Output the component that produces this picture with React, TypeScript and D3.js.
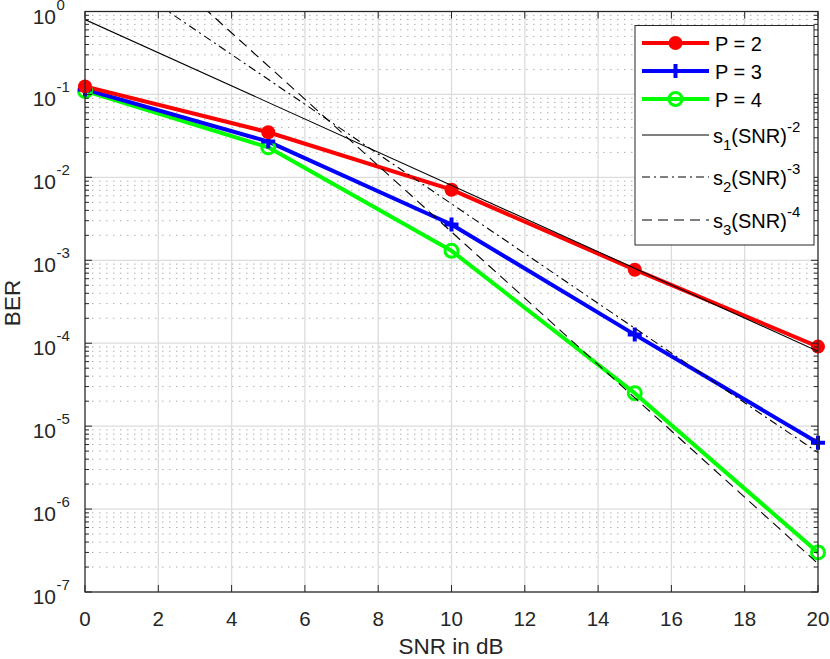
import { scaleLinear, scaleLog, line, range } from "d3";

const snrDb = [0, 5, 10, 15, 20];
const berP2 = [0.125, 0.035, 0.0071, 7.7e-4, 9.1e-5];
const berP3 = [0.115, 0.027, 0.0027, 1.27e-4, 6.3e-6];
const berP4 = [0.11, 0.023, 0.0013, 2.5e-5, 3.0e-7];
const slopeCoeffs = [0.8, 4.8, 22];
const slopeOrders = [2, 3, 4];
const xTicks = [0, 2, 4, 6, 8, 10, 12, 14, 16, 18, 20];
const yExps = [-7, -6, -5, -4, -3, -2, -1, 0];

const width = 830;
const height = 659;
const margin = { top: 11.5, bottom: 67, left: 85, right: 12 };
const innerWidth = width - margin.left - margin.right;
const innerHeight = height - margin.top - margin.bottom;
const font = "'Liberation Sans', Arial, sans-serif";
const axisColor = "#262626";

const series = [
  { name: "P = 4", values: berP4, color: "#00ff00", marker: "o" },
  { name: "P = 3", values: berP3, color: "#0000ff", marker: "+" },
  { name: "P = 2", values: berP2, color: "#ff0000", marker: "dot" },
];
const slopeDash = [undefined, "8,4,2,4", "10,6"];

function Marker({ type, x, y, color }: { type: string; x: number; y: number; color: string }) {
  if (type === "dot") return <circle cx={x} cy={y} r={7} fill={color} />;
  if (type === "o")
    return <circle cx={x} cy={y} r={6.5} fill="none" stroke={color} strokeWidth={3} />;
  return (
    <path d={`M${x - 7},${y}H${x + 7}M${x},${y - 7}V${y + 7}`} stroke={color} strokeWidth={4} />
  );
}

export default function App() {
  const x = scaleLinear().domain([0, 20]).range([0, innerWidth]);
  const y = scaleLog().domain([1e-7, 1]).range([innerHeight, 0]);
  const lineGen = line<[number, number]>()
    .x((d) => x(d[0]))
    .y((d) => y(d[1]));

  const minors: number[] = [];
  yExps.slice(0, -1).forEach((e) => {
    range(2, 10).forEach((m) => minors.push(m * Math.pow(10, e)));
  });

  const slopeLines = slopeCoeffs.map((s, i) =>
    [0, 20].map((db) => [db, s * Math.pow(10, (-slopeOrders[i] * db) / 10)] as [number, number])
  );

  const legendX = 635;
  const legendY = 25.5;
  const legendRows = [43, 71, 99, 135, 177, 220];
  const legendSeries = [...series].reverse();

  return (
    <svg width={width} height={height} style={{ display: "block", position: "absolute", left: 0, top: 0 }} fontFamily={font}>
      <rect width={width} height={height} fill="#fff" />
      <defs>
        <clipPath id="plot">
          <rect width={innerWidth} height={innerHeight} />
        </clipPath>
      </defs>
      <g transform={`translate(${margin.left},${margin.top})`}>
        {/* minor grid */}
        {minors.map((v) => (
          <line key={"m" + v} x1={0} x2={innerWidth} y1={y(v)} y2={y(v)} stroke="#b0b0b0" strokeWidth={1} strokeDasharray="1.5,5.5" />
        ))}
        {/* major grid */}
        {xTicks.map((t) => (
          <line key={"gx" + t} x1={x(t)} x2={x(t)} y1={0} y2={innerHeight} stroke="#dcdcdc" strokeWidth={1.3} />
        ))}
        {yExps.map((e) => (
          <line key={"gy" + e} x1={0} x2={innerWidth} y1={y(Math.pow(10, e))} y2={y(Math.pow(10, e))} stroke="#dcdcdc" strokeWidth={1.3} />
        ))}

        <g clipPath="url(#plot)">
          {series.map((s) => (
            <path
              key={s.name}
              d={lineGen(snrDb.map((d, i) => [d, s.values[i]] as [number, number])) || ""}
              fill="none"
              stroke={s.color}
              strokeWidth={4}
              strokeLinejoin="round"
            />
          ))}
        </g>
        {series.map((s) => (
          <g key={s.name + "m"}>
            {snrDb.map((d, i) => (
              <Marker key={d} type={s.marker} x={x(d)} y={y(s.values[i])} color={s.color} />
            ))}
          </g>
        ))}
        <g clipPath="url(#plot)">
          {slopeLines.map((pts, i) => (
            <path key={"s" + i} d={lineGen(pts) || ""} fill="none" stroke="#000" strokeWidth={1.1} strokeDasharray={slopeDash[i]} />
          ))}
        </g>

        {/* axes box and ticks */}
        <rect width={innerWidth} height={innerHeight} fill="none" stroke={axisColor} strokeWidth={1.2} />
        {xTicks.map((t) => (
          <g key={"tx" + t}>
            <line x1={x(t)} x2={x(t)} y1={innerHeight} y2={innerHeight - 7} stroke={axisColor} />
            <line x1={x(t)} x2={x(t)} y1={0} y2={7} stroke={axisColor} />
            <text x={x(t)} y={innerHeight + 34} textAnchor="middle" fontSize={20.5} fill={axisColor}>
              {t}
            </text>
          </g>
        ))}
        {yExps.map((e) => (
          <g key={"ty" + e}>
            <line x1={0} x2={7} y1={y(Math.pow(10, e))} y2={y(Math.pow(10, e))} stroke={axisColor} />
            <line x1={innerWidth} x2={innerWidth - 7} y1={y(Math.pow(10, e))} y2={y(Math.pow(10, e))} stroke={axisColor} />
            <text x={-29} y={y(Math.pow(10, e)) + 12} textAnchor="end" fontSize={21} fill={axisColor}>
              10
            </text>
            <text x={-28.5} y={y(Math.pow(10, e)) - 2} textAnchor="start" fontSize={15} fill={axisColor}>
              {e === 0 ? "0" : "-" + Math.abs(e)}
            </text>
          </g>
        ))}
        {minors.map((v) => (
          <g key={"tm" + v}>
            <line x1={0} x2={4} y1={y(v)} y2={y(v)} stroke={axisColor} />
            <line x1={innerWidth} x2={innerWidth - 4} y1={y(v)} y2={y(v)} stroke={axisColor} />
          </g>
        ))}
      </g>

      <text x={451} y={654} textAnchor="middle" fontSize={22.5} fill={axisColor}>
        SNR in dB
      </text>
      <text transform={`translate(19.5,303) rotate(-90)`} textAnchor="middle" fontSize={22.5} fill={axisColor}>
        BER
      </text>

      {/* legend */}
      <rect x={legendX} y={legendY} width={179} height={219.5} fill="#fff" stroke={axisColor} strokeWidth={1} />
      {legendSeries.map((s, i) => (
        <g key={"l" + s.name}>
          <line x1={642} x2={709} y1={legendRows[i]} y2={legendRows[i]} stroke={s.color} strokeWidth={4} />
          <Marker type={s.marker} x={675.5} y={legendRows[i]} color={s.color} />
          <text x={715} y={legendRows[i] + 7.5} fontSize={20} fill="#000">
            {s.name}
          </text>
        </g>
      ))}
      {slopeOrders.map((o, i) => (
        <g key={"ls" + o}>
          <line x1={642} x2={709} y1={legendRows[3 + i]} y2={legendRows[3 + i]} stroke="#000" strokeWidth={1} strokeDasharray={slopeDash[i]} />
          <text x={713} y={legendRows[3 + i] + 7.5} fontSize={20} fill="#000">
            s
            <tspan fontSize={15} dy={7}>{i + 1}</tspan>
            <tspan fontSize={20} dy={-7}>(SNR)</tspan>
            <tspan fontSize={15} dy={-11}>{"-" + o}</tspan>
          </text>
        </g>
      ))}
    </svg>
  );
}
